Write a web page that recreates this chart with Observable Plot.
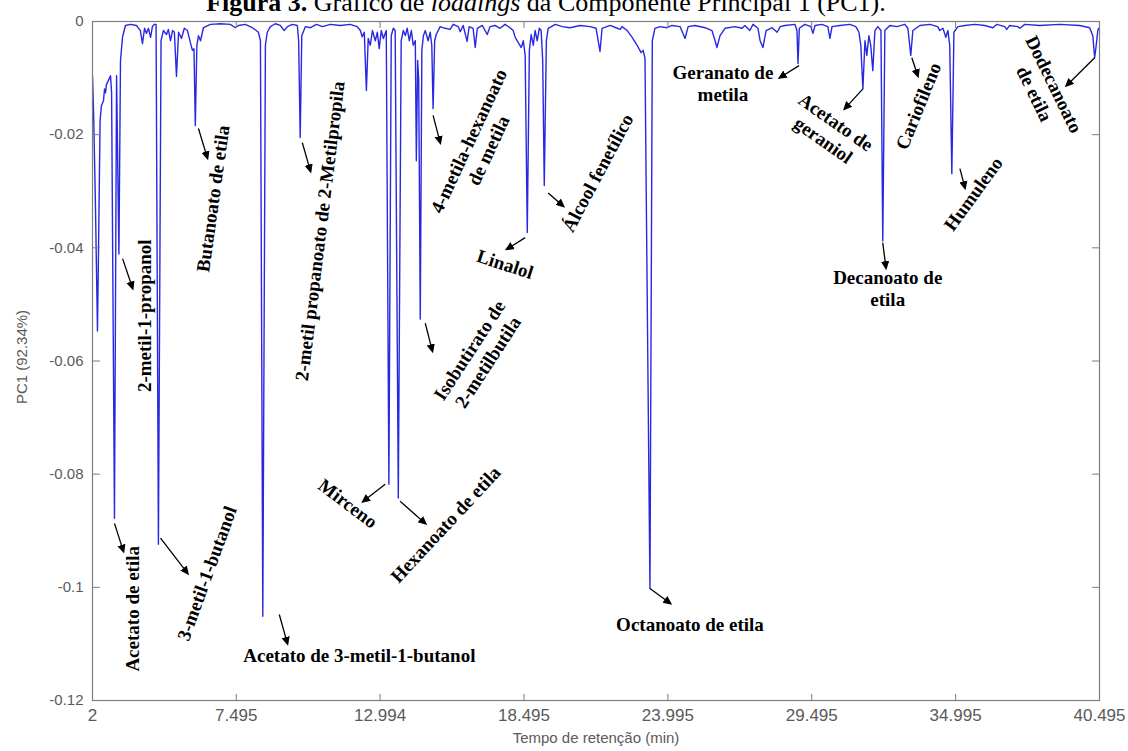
<!DOCTYPE html>
<html><head><meta charset="utf-8">
<script src="https://cdn.jsdelivr.net/npm/d3@7"></script>
<script src="https://cdn.jsdelivr.net/npm/@observablehq/plot@0.6"></script>
<style>
body{margin:0;background:#fff;}
#wrap{position:relative;width:1128px;height:751px;overflow:hidden;background:#fff;}
#title{position:absolute;top:-12px;left:0;width:1092px;text-align:center;font-family:"Liberation Serif","Times New Roman",serif;font-size:26px;line-height:30px;white-space:nowrap;color:#000;z-index:2;}
#chart{position:absolute;top:0;left:0;}
</style></head><body>
<div id="wrap"><div id="title"><b>Figura 3.</b> Gráfico de <i>loadings</i> da Componente Principal 1 (PC1).</div><div id="chart"></div></div>
<script>
// Retention time (min) and PC1 loading
const rt = [2.00,2.04,2.11,2.19,2.23,2.29,2.34,2.42,2.46,2.50,2.53,2.61,2.69,2.73,2.84,2.92,3.01,3.07,3.15,3.26,3.45,3.68,3.83,3.91,3.99,4.06,4.14,4.22,4.29,4.37,4.43,4.52,4.62,4.71,4.83,4.90,4.98,5.06,5.13,5.21,5.29,5.40,5.51,5.63,5.74,5.82,5.88,5.93,5.99,6.05,6.13,6.24,6.51,6.89,7.27,7.46,7.58,7.84,8.11,8.26,8.34,8.42,8.51,8.61,8.68,8.80,8.99,9.18,9.33,9.45,9.64,9.83,9.88,9.94,10.00,10.14,10.33,10.56,10.79,11.09,11.47,11.85,12.12,12.24,12.31,12.39,12.47,12.54,12.62,12.70,12.81,12.89,12.96,13.04,13.12,13.23,13.33,13.42,13.50,13.57,13.69,13.80,13.88,13.96,14.03,14.11,14.19,14.26,14.34,14.38,14.43,14.47,14.53,14.59,14.65,14.72,14.83,14.91,14.97,15.02,15.08,15.14,15.29,15.48,15.67,15.79,15.98,16.06,16.17,16.32,16.40,16.55,16.63,16.71,16.90,17.09,17.20,17.39,17.58,17.77,17.96,18.08,18.16,18.27,18.39,18.47,18.54,18.62,18.70,18.77,18.85,18.92,19.00,19.08,19.15,19.21,19.27,19.35,19.42,19.69,19.96,20.26,20.64,21.02,21.25,21.40,21.48,21.79,22.01,22.17,22.24,22.44,22.63,22.82,22.97,23.05,23.12,23.31,23.40,23.50,23.69,23.96,24.15,24.46,24.65,24.77,25.03,25.42,25.68,25.80,25.87,25.99,26.18,26.56,26.83,26.94,27.13,27.25,27.44,27.52,27.63,27.75,27.98,28.17,28.29,28.47,28.85,28.93,28.97,29.02,29.23,29.46,29.54,29.62,29.88,30.11,30.19,30.27,30.57,30.95,31.18,31.30,31.37,31.45,31.53,31.60,31.68,31.75,31.83,31.91,32.02,32.14,32.21,32.29,32.48,32.75,33.05,33.17,33.28,33.36,33.63,34.01,34.31,34.39,34.51,34.62,34.70,34.77,34.85,34.93,35.08,35.35,35.73,36.11,36.42,36.57,36.87,36.95,37.06,37.37,37.45,37.64,38.21,38.97,39.74,40.12,40.24,40.31,40.37,40.43,40.46];
const pc1 = [-0.0096,-0.0158,-0.0317,-0.0547,-0.0405,-0.0175,-0.0149,-0.0140,-0.0119,-0.0126,-0.0112,-0.0104,-0.0096,-0.0126,-0.0878,-0.0096,-0.0411,-0.0069,-0.0027,-0.0007,-0.0005,-0.0007,-0.0016,-0.0039,-0.0012,-0.0021,-0.0012,-0.0028,-0.0009,-0.0005,-0.0005,-0.0924,-0.0034,-0.0016,-0.0023,-0.0014,-0.0034,-0.0016,-0.0019,-0.0097,-0.0019,-0.0030,-0.0012,-0.0016,-0.0037,-0.0051,-0.0048,-0.0184,-0.0042,-0.0025,-0.0034,-0.0011,-0.0005,-0.0004,-0.0005,-0.0011,-0.0007,-0.0005,-0.0011,-0.0016,-0.0019,-0.0034,-0.1051,-0.0042,-0.0019,-0.0009,-0.0004,-0.0007,-0.0016,-0.0009,-0.0005,-0.0007,-0.0034,-0.0205,-0.0025,-0.0009,-0.0011,-0.0005,-0.0009,-0.0005,-0.0007,-0.0005,-0.0009,-0.0016,-0.0027,-0.0019,-0.0122,-0.0030,-0.0042,-0.0016,-0.0034,-0.0019,-0.0048,-0.0016,-0.0030,-0.0016,-0.0818,-0.0025,-0.0012,-0.0016,-0.0842,-0.0034,-0.0016,-0.0025,-0.0012,-0.0034,-0.0016,-0.0042,-0.0034,-0.0246,-0.0069,-0.0104,-0.0526,-0.0051,-0.0025,-0.0016,-0.0034,-0.0019,-0.0042,-0.0154,-0.0034,-0.0023,-0.0009,-0.0012,-0.0014,-0.0005,-0.0009,-0.0018,-0.0007,-0.0035,-0.0009,-0.0012,-0.0046,-0.0012,-0.0007,-0.0023,-0.0009,-0.0007,-0.0012,-0.0005,-0.0011,-0.0016,-0.0028,-0.0037,-0.0046,-0.0034,-0.0060,-0.0373,-0.0051,-0.0023,-0.0042,-0.0016,-0.0034,-0.0012,-0.0016,-0.0069,-0.0290,-0.0034,-0.0012,-0.0005,-0.0009,-0.0011,-0.0007,-0.0009,-0.0012,-0.0053,-0.0012,-0.0007,-0.0011,-0.0014,-0.0009,-0.0016,-0.0028,-0.0042,-0.0055,-0.0051,-0.0065,-0.1002,-0.0034,-0.0012,-0.0009,-0.0011,-0.0007,-0.0009,-0.0030,-0.0009,-0.0007,-0.0011,-0.0016,-0.0034,-0.0046,-0.0025,-0.0012,-0.0009,-0.0012,-0.0007,-0.0016,-0.0005,-0.0012,-0.0034,-0.0046,-0.0016,-0.0011,-0.0019,-0.0009,-0.0007,-0.0005,-0.0016,-0.0074,-0.0012,-0.0005,-0.0009,-0.0021,-0.0007,-0.0005,-0.0009,-0.0030,-0.0009,-0.0007,-0.0005,-0.0009,-0.0019,-0.0042,-0.0119,-0.0034,-0.0060,-0.0025,-0.0042,-0.0087,-0.0016,-0.0009,-0.0016,-0.0388,-0.0016,-0.0007,-0.0009,-0.0005,-0.0012,-0.0060,-0.0016,-0.0007,-0.0005,-0.0009,-0.0016,-0.0012,-0.0028,-0.0016,-0.0042,-0.0269,-0.0019,-0.0009,-0.0007,-0.0005,-0.0007,-0.0011,-0.0005,-0.0009,-0.0014,-0.0007,-0.0009,-0.0012,-0.0005,-0.0007,-0.0005,-0.0007,-0.0011,-0.0025,-0.0064,-0.0042,-0.0016,-0.0012];

// Axis ticks
const xTicks = [2, 7.495, 12.994, 18.495, 23.995, 29.495, 34.995, 40.495];
const xTickLabels = ["2", "7.495", "12.994", "18.495", "23.995", "29.495", "34.995", "40.495"];
const yTicks = [0, -0.02, -0.04, -0.06, -0.08, -0.1, -0.12];
const yTickLabels = ["0", "-0.02", "-0.04", "-0.06", "-0.08", "-0.1", "-0.12"];

// Compound annotations (label anchor in data units, rotation in degrees)
const compoundNames = ["Acetato de etila", "2-metil-1-propanol", "3-metil-1-butanol", "Butanoato de etila", "2-metil propanoato de 2-Metilpropila", "Mirceno", "Hexanoato de etila", "Isobutirato de\n2-metilbutila", "4-metila-hexanoato\nde metila", "Linalol", "Álcool fenetílico", "Octanoato de etila", "Geranato de\nmetila", "Acetato de\ngeraniol", "Decanoato de\netila", "Cariofileno", "Humuleno", "Dodecanoato\nde etila", "Acetato de 3-metil-1-butanol"];
const labelX = [3.50, 3.95, 6.35, 6.58, 10.67, 11.78, 15.48, 16.74, 16.74, 17.78, 21.29, 24.84, 26.10, 30.19, 32.40, 33.55, 35.65, 38.40, 12.20];
const labelY = [-0.1038, -0.0520, -0.0975, -0.0313, -0.0370, -0.0851, -0.0888, -0.0591, -0.0219, -0.0428, -0.0267, -0.1065, -0.0108, -0.0193, -0.0471, -0.0149, -0.0304, -0.0119, -0.1119];
const labelAngle = [-90, -90, -70, -82, -83, 37, -47, -57, -65, 18, -62, 0, 0, 35, 0, -68, -54, 64, 0];
// Arrows from peak to label
const arrowX1 = [2.84, 3.15, 4.60, 6.05, 10.02, 13.19, 13.76, 14.72, 15.02, 18.54, 19.42, 23.31, 29.01, 31.45, 32.21, 33.32, 35.16, 40.31, 9.14];
const arrowY1 = [-0.0887, -0.0419, -0.0913, -0.0189, -0.0214, -0.0818, -0.0848, -0.0533, -0.0166, -0.0382, -0.0303, -0.1002, -0.0078, -0.0119, -0.0391, -0.0064, -0.0260, -0.0064, -0.1048];
const arrowX2 = [3.18, 3.53, 5.63, 6.39, 10.33, 12.35, 14.72, 14.99, 15.29, 17.85, 19.99, 24.08, 28.28, 30.76, 32.33, 33.55, 35.35, 39.24, 9.45];
const arrowY2 = [-0.0936, -0.0471, -0.0975, -0.0241, -0.0264, -0.0848, -0.0887, -0.0582, -0.0214, -0.0402, -0.0326, -0.1028, -0.0099, -0.0154, -0.0435, -0.0096, -0.0294, -0.0113, -0.1099];

const trace = rt.map((t, i) => ({t, v: pc1[i]}));
const labels = compoundNames.map((name, i) => ({name, x: labelX[i], y: labelY[i], a: labelAngle[i]}));
const arrows = arrowX1.map((x1, i) => ({x1, y1: arrowY1[i], x2: arrowX2[i], y2: arrowY2[i]}));

const axisGray = "#7d7d7d";
const textGray = "#5a5a5a";
const serif = "'Liberation Serif', 'Times New Roman', serif";

const chart = Plot.plot({
  width: 1128, height: 751,
  marginLeft: 92, marginRight: 29, marginTop: 21, marginBottom: 51,
  x: {domain: [2, 40.495]},
  y: {domain: [-0.12, 0]},
  style: {fontFamily: "'Liberation Sans', Arial, sans-serif", background: "white", overflow: "visible"},
  marks: [
    Plot.line(trace, {x: "t", y: "v", stroke: "#2828e2", strokeWidth: 1.4, clip: true}),
    Plot.frame({stroke: axisGray, strokeWidth: 1.2}),
    Plot.axisX({ticks: xTicks, tickSize: -6, fill: "none", stroke: axisGray, label: null}),
    Plot.axisX({anchor: "top", ticks: xTicks, tickSize: -6, fill: "none", stroke: axisGray, label: null}),
    Plot.axisY({ticks: yTicks, tickSize: -8, fill: "none", stroke: axisGray, label: null}),
    Plot.axisY({anchor: "right", ticks: yTicks, tickSize: -8, fill: "none", stroke: axisGray, label: null}),
    Plot.axisX({ticks: xTicks, tickSize: 0, tickPadding: 8, fill: textGray, fontSize: 17, label: null,
      tickFormat: d => xTickLabels[xTicks.indexOf(d)]}),
    Plot.axisY({ticks: yTicks, tickSize: 0, tickPadding: 9, fill: textGray, fontSize: 15, label: null,
      tickFormat: d => yTickLabels[yTicks.indexOf(d)]}),
    Plot.text(["Tempo de retenção (min)"], {frameAnchor: "bottom", dy: 42, fill: textGray, fontSize: 15}),
    Plot.text(["PC1 (92.34%)"], {frameAnchor: "left", textAnchor: "middle", dx: -70, dy: -4, rotate: -90, fill: textGray, fontSize: 15}),
    Plot.link(arrows, {x1: "x1", y1: "y1", x2: "x2", y2: "y2", stroke: "black", strokeWidth: 1.3, markerEnd: "arrow"}),
    Plot.text(labels, {x: "x", y: "y", text: "name", rotate: "a", fontFamily: serif, fontWeight: "bold", fontSize: 19, fill: "black", lineHeight: 1.15})
  ]
});
// Give the arrow markers a filled triangular head
chart.querySelectorAll("marker").forEach(m => {
  m.setAttribute("markerWidth", "10");
  m.setAttribute("markerHeight", "10");
  m.setAttribute("fill", "black");
  m.setAttribute("stroke", "none");
  m.querySelectorAll("path").forEach(p => p.setAttribute("d", "M-5,-3.2L2,0L-5,3.2Z"));
});
document.getElementById("chart").appendChild(chart);
</script>
</body></html>
